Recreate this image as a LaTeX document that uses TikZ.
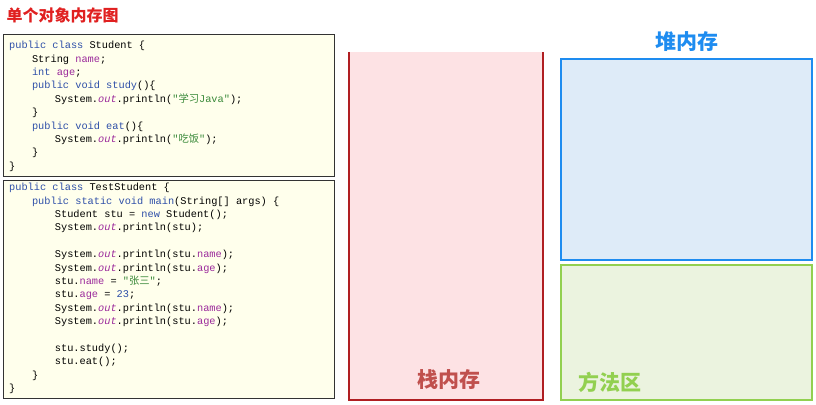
\documentclass[tikz,border=0pt]{standalone}
\usepackage{fontspec}
\setmonofont{Liberation Mono}
\newfontfamily\cjk{Noto Sans CJK SC}
\definecolor{kwc}{HTML}{2E4FA8}
\definecolor{fdc}{HTML}{9B2A9B}
\definecolor{stc}{HTML}{3A8A3A}
\definecolor{codebg}{HTML}{FFFFEC}
\definecolor{stackfill}{HTML}{FDE2E4}
\definecolor{stackline}{HTML}{B01E22}
\definecolor{stacktxt}{HTML}{C0504D}
\definecolor{heapfill}{HTML}{DEEBF8}
\definecolor{heapline}{HTML}{1E8CF0}
\definecolor{methfill}{HTML}{EBF3DF}
\definecolor{methline}{HTML}{92D050}
\definecolor{titlec}{HTML}{E02020}
\newcommand{\kw}[1]{\textcolor{kwc}{#1}}
\newcommand{\fd}[1]{\textcolor{fdc}{#1}}
\newcommand{\ou}[1]{\textcolor{fdc}{\itshape #1}}
\newcommand{\stt}[1]{\textcolor{stc}{#1}}
\newcommand{\ind}{\hspace*{4.2ex}}
\begin{document}
\begin{tikzpicture}[x=1pt,y=-1pt,
  code/.style={draw=black!80,line width=1pt,fill=codebg},
  codetext/.style={anchor=north west,align=left,inner sep=0pt,font=\ttfamily\fontsize{10.3}{13.4}\selectfont},
  lbl/.style={font=\cjk\bfseries\fontsize{21}{21}\selectfont}]
\useasboundingbox (0,0) rectangle (816,404);
\node[anchor=west,text=titlec,font=\cjk\bfseries\fontsize{16}{16}\selectfont] (title) at (3,15) {单个对象内存图};
\draw[code] (3,35) rectangle (334,176);
\node[codetext] (c1) at (9,41) {\kw{public} \kw{class} Student \{\\
\ind String \fd{name};\\
\ind \kw{int} \fd{age};\\
\ind \kw{public} \kw{void} \kw{study}()\{\\
\ind\ind System.\ou{out}.println(\stt{"{\cjk 学习}Java"});\\
\ind \}\\
\ind \kw{public} \kw{void} \kw{eat}()\{\\
\ind\ind System.\ou{out}.println(\stt{"{\cjk 吃饭}"});\\
\ind \}\\
\}};
\draw[code] (3,180) rectangle (334,398);
\node[codetext] (c2) at (9,183) {\kw{public} \kw{class} TestStudent \{\\
\ind \kw{public} \kw{static} \kw{void} \kw{main}(String[] args) \{\\
\ind\ind Student stu = \kw{new} Student();\\
\ind\ind System.\ou{out}.println(stu);\\
\mbox{}\\
\ind\ind System.\ou{out}.println(stu.\fd{name});\\
\ind\ind System.\ou{out}.println(stu.\fd{age});\\
\ind\ind stu.\fd{name} = \stt{"{\cjk 张三}"};\\
\ind\ind stu.\fd{age} = \kw{23};\\
\ind\ind System.\ou{out}.println(stu.\fd{name});\\
\ind\ind System.\ou{out}.println(stu.\fd{age});\\
\mbox{}\\
\ind\ind stu.study();\\
\ind\ind stu.eat();\\
\ind \}\\
\}};
% stack
\fill[stackfill] (349,52) rectangle (543,400);
\draw[stackline,line width=2pt] (349,52) -- (349,400) -- (543,400) -- (543,52);
\node[lbl,text=stacktxt] (stack) at (449,380) {栈内存};
% heap
\draw[fill=heapfill,draw=heapline,line width=2pt] (561,59) rectangle (812,260);
\node[lbl,text=heapline] (heap) at (687,42) {堆内存};
% method area
\draw[fill=methfill,draw=methline,line width=2pt] (561,265) rectangle (812,400);
\node[lbl,text=methline] (method) at (610,382) {方法区};
\end{tikzpicture}
\end{document}
